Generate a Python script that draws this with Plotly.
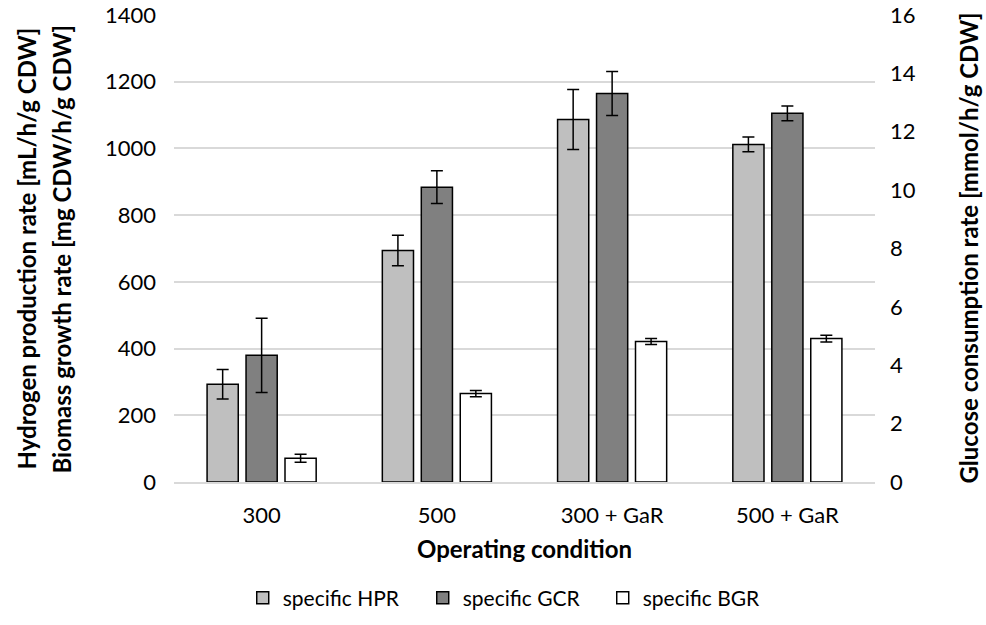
import plotly.graph_objects as go

categories = ["300", "500", "300 + GaR", "500 + GaR"]
hpr = [293, 694, 1087, 1012]
hpr_err = [44, 46, 90, 22]
gcr = [4.34, 10.10, 13.31, 12.63]
gcr_err = [1.27, 0.56, 0.75, 0.25]
bgr = [71, 265, 421, 430]
bgr_err = [12, 9.5, 9, 10]

FONT = "Lato"
TICK = 22
TITLE = 24
line = dict(color="black", width=1.5)
eb = dict(thickness=1.5, width=6, color="black")

fig = go.Figure()
fig.add_trace(go.Bar(x=categories, y=hpr, name="specific HPR", marker=dict(color="#BFBFBF", line=line),
                     error_y=dict(type="data", array=hpr_err, **eb), offsetgroup="1", yaxis="y"))
fig.add_trace(go.Bar(x=categories, y=gcr, name="specific GCR", marker=dict(color="#808080", line=line),
                     error_y=dict(type="data", array=gcr_err, **eb), offsetgroup="2", yaxis="y2"))
fig.add_trace(go.Bar(x=categories, y=bgr, name="specific BGR", marker=dict(color="#FFFFFF", line=line),
                     error_y=dict(type="data", array=bgr_err, **eb), offsetgroup="3", yaxis="y"))

fig.update_layout(
    width=986, height=625,
    margin=dict(l=174, r=111, t=15, b=143, autoexpand=False),
    paper_bgcolor="white", plot_bgcolor="white",
    font=dict(family=FONT, size=TICK, color="black"),
    barmode="group", bargap=0.333, bargroupgap=0.2,
    showlegend=True,
    legend=dict(orientation="h", xref="container", yref="container", x=0.52, y=0.043,
                xanchor="center", yanchor="middle", font=dict(size=21), itemwidth=30,
                entrywidth=135, entrywidthmode="pixels",
                traceorder="normal", tracegroupgap=0),
    xaxis=dict(showgrid=False, showline=True, linecolor="#D9D9D9", linewidth=1.5, ticks="",
               automargin=False, ticklabelstandoff=13,
               title=dict(text="<b>Operating condition</b>", font=dict(size=TITLE), standoff=14),
               tickfont=dict(size=TICK)),
    yaxis=dict(range=[0, 1400], dtick=200, showgrid=True, gridcolor="#D9D9D9", gridwidth=1.5,
               automargin=False, zeroline=False, showline=False, ticks="", tickfont=dict(size=TICK),
               ticklabelstandoff=17),
    yaxis2=dict(range=[0, 16], dtick=2, overlaying="y", side="right", showgrid=False, zeroline=False,
                automargin=False, showline=False, ticks="", tickfont=dict(size=TICK), ticklabelstandoff=14),
    annotations=[
        dict(text="<b>Hydrogen production rate [mL/h/g CDW]</b>", xref="paper", yref="paper",
             x=-0.2111, y=0.5, textangle=-90, showarrow=False, xanchor="center", yanchor="middle",
             font=dict(size=TITLE)),
        dict(text="<b>Biomass growth rate [mg CDW/h/g CDW]</b>", xref="paper", yref="paper",
             x=-0.1598, y=0.5, textangle=-90, showarrow=False, xanchor="center", yanchor="middle",
             font=dict(size=TITLE)),
        dict(text="<b>Glucose consumption rate [mmol/h/g CDW]</b>", xref="paper", yref="paper",
             x=1.1327, y=0.5, textangle=-90, showarrow=False, xanchor="center", yanchor="middle",
             font=dict(size=TITLE)),
    ],
)
fig.write_html("out.html", config={"displayModeBar": False},
               post_script="document.body.style.margin='0';")
